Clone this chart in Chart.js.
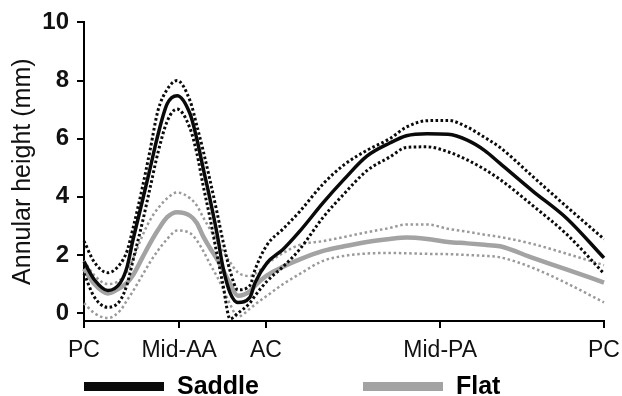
<!DOCTYPE html>
<html>
<head>
<meta charset="utf-8">
<script src="https://cdn.jsdelivr.net/npm/chart.js@4/dist/chart.umd.min.js"></script>
<style>
  html, body { margin: 0; padding: 0; background: #fff; }
  #wrap { width: 622px; height: 396px; position: relative; }
</style>
</head>
<body>
<div id="wrap"><canvas id="annulusChart"></canvas></div>
<script>
/* DATA: position around the annulus (% of perimeter from PC) */
const pos = [0, 2, 4.6, 7, 8.3, 9.4, 11.2, 12.7, 14.2, 16, 17.9, 20.4, 21.7, 22.9, 24.2, 25.6, 26.7, 28.1, 29.6, 31.9, 32.9, 35.2, 38.3, 41.5, 46, 50, 54.4, 58.8, 62, 66, 70, 73.7, 77, 80, 86.3, 92.9, 100];

const saddleMean  = [1.77, 1.15, 0.78, 1.05, 1.6, 2.5, 3.84, 4.97, 6.12, 7.2, 7.48, 6.85, 5.99, 5.0, 3.95, 2.72, 1.6, 0.7, 0.37, 0.54, 1.05, 1.73, 2.2, 2.82, 3.8, 4.6, 5.4, 5.85, 6.1, 6.17, 6.15, 5.95, 5.6, 5.15, 4.2, 3.25, 1.9];
const saddleUpper = [2.48, 1.75, 1.39, 1.7, 2.15, 2.9, 4.3, 5.6, 6.95, 7.7, 8.0, 7.3, 6.45, 5.6, 4.6, 3.45, 2.5, 1.45, 0.8, 0.95, 1.5, 2.35, 2.9, 3.5, 4.45, 5.1, 5.6, 6.0, 6.4, 6.62, 6.63, 6.4, 6.05, 5.7, 4.7, 3.65, 2.55];
const saddleLower = [1.36, 0.55, 0.2, 0.45, 1.0, 1.8, 3.1, 4.3, 5.5, 6.6, 7.02, 6.35, 5.5, 4.4, 3.3, 2.0, 1.0, -0.2, 0.0, 0.35, 0.6, 1.1, 1.6, 2.2, 3.3, 4.1, 4.9, 5.37, 5.7, 5.72, 5.55, 5.27, 4.95, 4.6, 3.7, 2.7, 1.36];

const flatMean  = [1.53, 1.0, 0.68, 0.88, 1.05, 1.3, 1.9, 2.4, 2.85, 3.3, 3.47, 3.35, 3.1, 2.65, 2.25, 1.85, 1.5, 1.0, 0.6, 0.75, 0.95, 1.3, 1.6, 1.85, 2.14, 2.3, 2.45, 2.55, 2.6, 2.55, 2.45, 2.4, 2.35, 2.3, 1.9, 1.5, 1.05];
const flatUpper = [1.8, 1.3, 1.0, 1.15, 1.45, 1.85, 2.65, 3.2, 3.6, 3.95, 4.15, 3.95, 3.7, 3.3, 2.9, 2.5, 2.15, 1.75, 1.4, 1.28, 1.35, 1.7, 2.07, 2.35, 2.48, 2.62, 2.78, 2.93, 3.05, 3.05, 2.9, 2.8, 2.7, 2.62, 2.38, 2.04, 1.65];
const flatLower = [0.34, 0.0, -0.17, 0.1, 0.45, 0.75, 1.3, 1.75, 2.15, 2.55, 2.84, 2.75, 2.5, 2.15, 1.7, 1.25, 0.85, 0.3, -0.12, 0.15, 0.3, 0.6, 1.0, 1.35, 1.8, 1.97, 2.05, 2.07, 2.06, 2.04, 2.03, 2.0, 1.97, 1.92, 1.56, 1.02, 0.37];

const seriesNames = ["Saddle", "Flat"];
const xTickPos = [0, 18.3, 35, 68.5, 100];
const xTickLabels = ["PC", "Mid-AA", "AC", "Mid-PA", "PC"];
const yTicks = [0, 2, 4, 6, 8, 10];
const yTitle = "Annular height (mm)";

const FONT = "'Liberation Sans', Arial, Helvetica, sans-serif";
const BLACK = "#0a0a0a";
const GREY = "#a3a3a3";
const GREY_DOT = "#9a9a9a";

function pts(vals){
  return vals.map((v,i)=>({x:pos[i], y:v}));
}

function solid(label, vals, color, w){
  return { label, data: pts(vals), borderColor: color, borderWidth: w,
    pointRadius: 0, cubicInterpolationMode: 'monotone', fill: false, clip: false };
}
function dotted(label, vals, color, w, dash){
  return { label, data: pts(vals), borderColor: color, borderWidth: w, borderDash: dash,
    borderCapStyle: 'butt', pointRadius: 0, cubicInterpolationMode: 'monotone', fill: false, clip: false };
}

/* bottom key: thick bar + bold name, like the figure */
const bottomKey = {
  id: 'bottomKey',
  afterDraw(chart){
    const ctx = chart.ctx;
    const items = [
      {name: seriesNames[0], color: BLACK, x: 84},
      {name: seriesNames[1], color: GREY, x: 363}
    ];
    ctx.save();
    ctx.font = "bold 25px " + FONT;
    ctx.textBaseline = 'middle';
    items.forEach(it=>{
      ctx.fillStyle = it.color;
      ctx.fillRect(it.x, 382, 80, 9);
      ctx.fillStyle = '#000';
      ctx.fillText(it.name, it.x + 93, 387);
    });
    ctx.restore();
  }
};

new Chart(document.getElementById('annulusChart'), {
  type: 'line',
  data: {
    datasets: [
      solid(seriesNames[0], saddleMean, BLACK, 3.5),
      dotted(seriesNames[0] + " upper", saddleUpper, BLACK, 3, [2.6, 2.4]),
      dotted(seriesNames[0] + " lower", saddleLower, BLACK, 3, [2.6, 2.4]),
      solid(seriesNames[1], flatMean, GREY, 4.5),
      dotted(seriesNames[1] + " upper", flatUpper, GREY_DOT, 2.5, [2.5, 2.7]),
      dotted(seriesNames[1] + " lower", flatLower, GREY_DOT, 2.5, [2.5, 2.7])
    ]
  },
  options: {
    responsive: true,
    maintainAspectRatio: false,
    animation: false,
    devicePixelRatio: 1,
    layout: { padding: { top: 19, right: 18, bottom: 35, left: 0 } },
    plugins: { legend: { display: false }, tooltip: { enabled: false } },
    scales: {
      x: {
        type: 'linear', min: 0, max: 100,
        afterBuildTicks: s => { s.ticks = xTickPos.map(v=>({value:v})); },
        afterFit: s => { s.height = 40; s.paddingLeft = 0; s.paddingRight = 0; },
        ticks: {
          autoSkip: false, maxRotation: 0, padding: 9,
          color: '#111', font: { family: FONT, size: 23 },
          callback: (v, i) => xTickLabels[i]
        },
        grid: { drawOnChartArea: false, drawTicks: true, tickLength: 7, color: '#000', lineWidth: 2 },
        border: { color: '#000', width: 2 }
      },
      y: {
        min: -0.27, max: 10,
        afterBuildTicks: s => { s.ticks = yTicks.map(v=>({value:v})); },
        afterFit: s => { s.width = 84; },
        ticks: { padding: 8, color: '#111', font: { family: FONT, size: 24, weight: 'bold' } },
        grid: { drawOnChartArea: false, drawTicks: true, tickLength: 7, color: '#000', lineWidth: 2 },
        border: { color: '#000', width: 2 },
        title: { display: true, text: yTitle, color: '#111', font: { family: FONT, size: 25 }, padding: { top: 8, bottom: 0 } }
      }
    }
  },
  plugins: [bottomKey]
});
</script>
</body>
</html>
